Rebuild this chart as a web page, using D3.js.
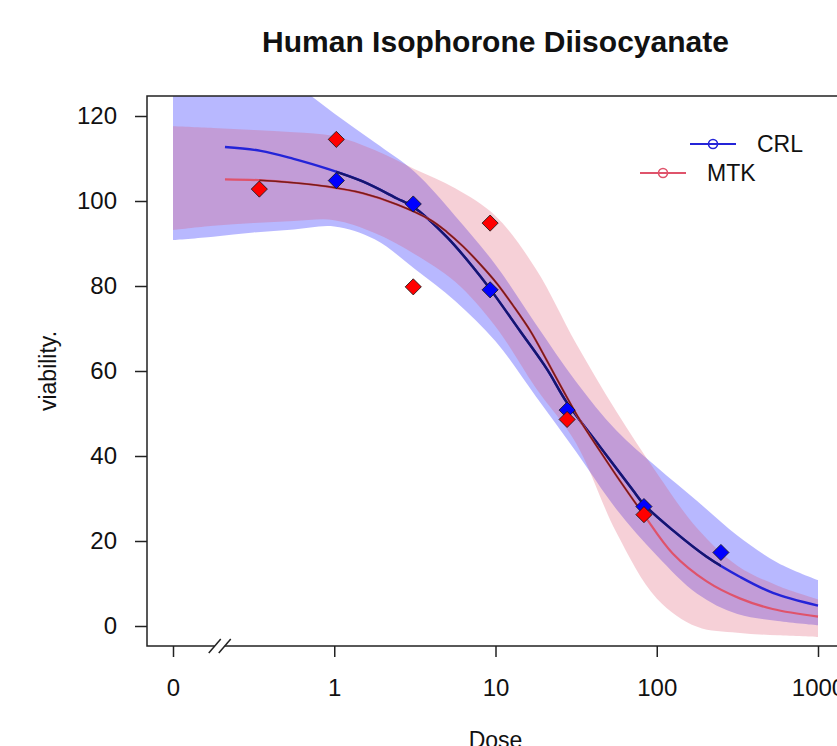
<!DOCTYPE html>
<html>
<head>
<meta charset="utf-8">
<script src="https://cdn.jsdelivr.net/npm/d3@7"></script>
<style>
  body { margin: 0; background: #fff; }
  svg text { font-family: "Liberation Sans", Arial, sans-serif; fill: #111; }
</style>
</head>
<body>
<svg id="chart"></svg>
<script>
// observed points
const seriesNames = ["CRL", "MTK"];
const crlDoses = [1.03, 3.09, 9.26, 27.8, 83.3, 250];
const crlViability = [104.8, 99.3, 79.1, 50.8, 28.1, 17.3];
const mtkDoses = [0.343, 1.03, 3.09, 9.26, 27.8, 83.3];
const mtkViability = [102.8, 114.5, 79.8, 94.8, 48.6, 26.2];

// fitted curves
const crlFitDoses = [0.21, 0.35, 0.56, 0.9, 1.5, 2.45, 3.1, 5, 7.2, 9.3, 14.2, 20.8, 27.7, 44.4, 71, 83.3, 126, 204, 327, 525, 1000];
const crlFit = [112.7, 111.8, 109.9, 107.6, 104.6, 100.6, 98.6, 91.5, 84.6, 79.2, 69.4, 60.5, 52.6, 42.2, 32, 28.6, 22.5, 16.3, 11.6, 7.8, 4.8];
const mtkFitDoses = [0.21, 0.34, 0.56, 0.91, 1.51, 2.45, 3.93, 5.0, 6.3, 8.0, 10.2, 12.8, 16.4, 20.8, 26.2, 33.3, 44.4, 59, 82, 126, 204, 327, 523, 1000];
const mtkFit = [105.1, 104.9, 104.3, 103.4, 101.8, 99.2, 95.6, 92.7, 89.3, 85.2, 80.6, 75.5, 69.5, 62.5, 55.5, 48.5, 41.2, 34.2, 26.5, 17, 10.5, 6.5, 4, 2.2];

// confidence bands
const bandDoses = [0.1, 0.178, 0.316, 0.562, 1, 1.78, 3.16, 5.62, 10, 17.8, 31.6, 56.2, 100, 178, 316, 562, 1000];
const crlUpper = [136, 135, 132, 127.5, 120.6, 113.8, 106.8, 96.5, 85, 71, 57.5, 46, 37.4, 29.4, 21.3, 14.9, 10.8];
const crlLower = [90.8, 91.6, 92.6, 93.3, 94, 91, 84, 76.5, 67, 54, 41, 27.5, 16.6, 7.6, 2.8, 1.2, 0.2];
const mtkUpper = [117.6, 117.2, 116.7, 116.2, 115.3, 112, 107.5, 103, 96.5, 84, 66.5, 50.5, 36, 23, 14.2, 9.5, 6.3];
const mtkLower = [93.2, 94.2, 94.8, 95.3, 95.5, 92.5, 87.5, 81, 70.5, 56, 43, 22, 6.5, -0.2, -1.6, -2.2, -2.6];

const xTickValues = [0.1, 1, 10, 100, 1000];
const xTickLabels = ["0", "1", "10", "100", "1000"];
const yTickValues = [0, 20, 40, 60, 80, 100, 120];

const width = 837, height = 746;
const box = {left: 147, top: 96, right: 844, bottom: 646};
const crlColor = "#2424d8", crlDark = "#16166e";
const mtkColor = "#df536b", mtkDark = "#761c1c";

const svg = d3.select("#chart").attr("width", width).attr("height", height);

const x = d3.scaleLog().domain([0.1, 1000]).range([173, 818]);
const y = d3.scaleLinear().domain([0, 120]).range([626, 116]);

const defs = svg.append("defs");
defs.append("clipPath").attr("id", "plotClip")
  .append("rect").attr("x", box.left).attr("y", box.top)
  .attr("width", box.right - box.left).attr("height", box.bottom - box.top);
defs.append("clipPath").attr("id", "crlRange")
  .append("rect").attr("x", x(d3.min(crlDoses))).attr("y", box.top)
  .attr("width", x(d3.max(crlDoses)) - x(d3.min(crlDoses))).attr("height", box.bottom - box.top);
defs.append("clipPath").attr("id", "mtkRange")
  .append("rect").attr("x", x(d3.min(mtkDoses))).attr("y", box.top)
  .attr("width", x(d3.max(mtkDoses)) - x(d3.min(mtkDoses))).attr("height", box.bottom - box.top);

const plot = svg.append("g").attr("clip-path", "url(#plotClip)");

// bands
const band = (lo, hi) => d3.area()
  .x((d, i) => x(bandDoses[i]))
  .y0((d, i) => y(lo[i]))
  .y1((d, i) => y(hi[i]))
  .curve(d3.curveCatmullRom.alpha(0.5))(bandDoses);

plot.append("path").attr("d", band(crlLower, crlUpper))
  .attr("fill", "#0000ff").attr("fill-opacity", 0.28);
plot.append("path").attr("d", band(mtkLower, mtkUpper))
  .attr("fill", mtkColor).attr("fill-opacity", 0.27);

// curves
const curve = (ds, vs) => d3.line()
  .x((d, i) => x(ds[i])).y((d, i) => y(vs[i]))
  .curve(d3.curveCatmullRom.alpha(0.5))(ds);

plot.append("path").attr("d", curve(crlFitDoses, crlFit))
  .attr("fill", "none").attr("stroke", crlColor).attr("stroke-width", 2.4);
plot.append("g").attr("clip-path", "url(#crlRange)")
  .append("path").attr("d", curve(crlFitDoses, crlFit))
  .attr("fill", "none").attr("stroke", crlDark).attr("stroke-width", 2.4);

plot.append("path").attr("d", curve(mtkFitDoses, mtkFit))
  .attr("fill", "none").attr("stroke", mtkColor).attr("stroke-width", 2.2);
plot.append("g").attr("clip-path", "url(#mtkRange)")
  .append("path").attr("d", curve(mtkFitDoses, mtkFit))
  .attr("fill", "none").attr("stroke", mtkDark).attr("stroke-width", 1.6);

// points (diamonds)
const diamond = d3.symbol(d3.symbolSquare, 130);
plot.selectAll("path.crl").data(crlDoses).enter().append("path")
  .attr("class", "crl").attr("d", diamond)
  .attr("transform", (d, i) => `translate(${x(d)},${y(crlViability[i])}) rotate(45)`)
  .attr("fill", "#0000ff").attr("stroke", "#1a1a1a").attr("stroke-width", 0.8);
plot.selectAll("path.mtk").data(mtkDoses).enter().append("path")
  .attr("class", "mtk").attr("d", diamond)
  .attr("transform", (d, i) => `translate(${x(d)},${y(mtkViability[i])}) rotate(45)`)
  .attr("fill", "#ff0000").attr("stroke", "#1a1a1a").attr("stroke-width", 0.8);

// box
svg.append("rect").attr("x", box.left).attr("y", box.top)
  .attr("width", box.right - box.left).attr("height", box.bottom - box.top)
  .attr("fill", "none").attr("stroke", "#222").attr("stroke-width", 1.5);

// axes
const xAxis = svg.append("g").attr("transform", `translate(0,${box.bottom})`)
  .call(d3.axisBottom(x).tickValues(xTickValues)
    .tickFormat((d, i) => xTickLabels[i]).tickSize(11).tickPadding(22));
xAxis.select(".domain").remove();
xAxis.selectAll("line").attr("stroke", "#222").attr("stroke-width", 1.5);
xAxis.selectAll("text").attr("font-size", 24).attr("fill", "#111")
  .style("font-family", "'Liberation Sans', Arial, sans-serif");

const yAxis = svg.append("g").attr("transform", `translate(${box.left},0)`)
  .call(d3.axisLeft(y).tickValues(yTickValues).tickSize(12).tickPadding(18));
yAxis.select(".domain").remove();
yAxis.selectAll("line").attr("stroke", "#222").attr("stroke-width", 1.5);
yAxis.selectAll("text").attr("font-size", 24).attr("fill", "#111")
  .style("font-family", "'Liberation Sans', Arial, sans-serif");

// axis break
const xb = x(0.195);
svg.append("rect").attr("x", xb - 5).attr("y", box.bottom - 2).attr("width", 10).attr("height", 4).attr("fill", "#fff");
[-5, 5].forEach(o => {
  svg.append("line")
    .attr("x1", xb + o - 6).attr("y1", box.bottom + 7)
    .attr("x2", xb + o + 6).attr("y2", box.bottom - 7)
    .attr("stroke", "#222").attr("stroke-width", 1.5);
});

// titles
svg.append("text").attr("x", (box.left + box.right) / 2).attr("y", 52)
  .attr("text-anchor", "middle").attr("font-size", 30).attr("font-weight", "bold")
  .text("Human Isophorone Diisocyanate");
svg.append("text").attr("x", (box.left + box.right) / 2).attr("y", 748)
  .attr("text-anchor", "middle").attr("font-size", 23).text("Dose");
svg.append("text").attr("transform", "translate(56,371) rotate(-90)")
  .attr("text-anchor", "middle").attr("font-size", 23).text("viability.");

// legend
const legendRows = [
  {name: seriesNames[0], color: crlColor, x1: 690, y: 144},
  {name: seriesNames[1], color: mtkColor, x1: 640, y: 173}
];
const lg = svg.selectAll("g.legend").data(legendRows).enter().append("g").attr("class", "legend");
lg.append("line").attr("x1", d => d.x1).attr("x2", d => d.x1 + 46)
  .attr("y1", d => d.y).attr("y2", d => d.y)
  .attr("stroke", d => d.color).attr("stroke-width", 1.8);
lg.append("circle").attr("cx", d => d.x1 + 23).attr("cy", d => d.y).attr("r", 4.5)
  .attr("fill", "none").attr("stroke", d => d.color).attr("stroke-width", 1.6);
lg.append("text").attr("x", d => d.x1 + 67).attr("y", d => d.y + 8)
  .attr("font-size", 23).text(d => d.name);
</script>
</body>
</html>
